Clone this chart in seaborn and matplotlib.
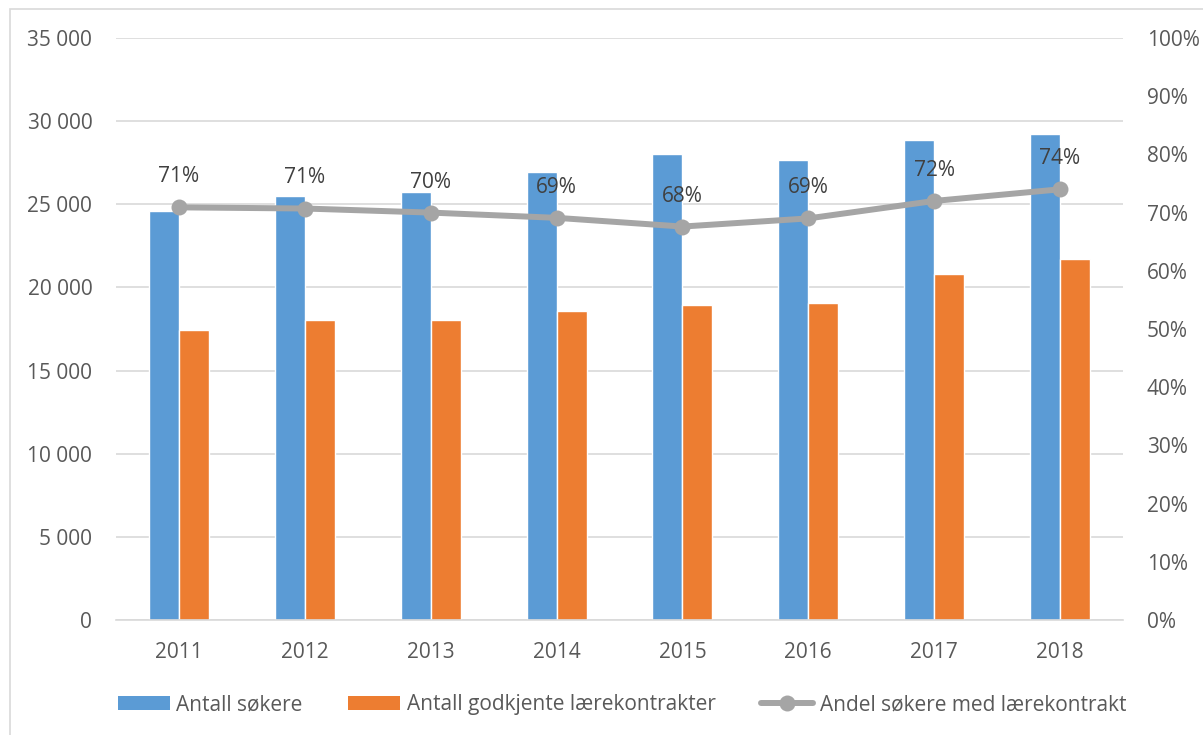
import numpy as np
import pandas as pd
import matplotlib.pyplot as plt
import seaborn as sns
from matplotlib.ticker import FuncFormatter, MultipleLocator
from matplotlib.patches import Patch, Rectangle
from matplotlib.lines import Line2D

# ── Data ───────────────────────────────────────────────────────────────────────

years = ["2011", "2012", "2013", "2014", "2015", "2016", "2017", "2018"]
sokere = [24600, 25480, 25760, 26920, 28000, 27640, 28860, 29200]
kontrakter = [17430, 18030, 18040, 18600, 18950, 19050, 20790, 21690]
andel = [0.709, 0.707, 0.700, 0.691, 0.676, 0.690, 0.720, 0.740]

series_names = ["Antall søkere", "Antall godkjente lærekontrakter"]
line_name = "Andel søkere med lærekontrakt"

BLUE = "#5B9BD5"
ORANGE = "#ED7D31"
GREY = "#A5A5A5"
GRID = "#D9D9D9"
TICK = "#595959"
LABEL = "#404040"
FS = 15

df = pd.DataFrame({
    "year": years * 2,
    "value": sokere + kontrakter,
    "serie": [series_names[0]] * len(years) + [series_names[1]] * len(years),
})

# ── Plot ───────────────────────────────────────────────────────────────────────

sns.set_theme(style="white")
plt.rcParams["font.family"] = ["Open Sans", "DejaVu Sans"]

fig = plt.figure(figsize=(12.03, 7.35), dpi=100)
ax = fig.add_axes([0.0964, 0.1565, 0.8371, 0.7918])

sns.barplot(
    data=df, x="year", y="value", hue="serie",
    palette=[BLUE, ORANGE], width=0.476, gap=0,
    saturation=1, legend=False, ax=ax, zorder=2,
)
ax.set_xlim(-0.5, len(years) - 0.5)
ax.set_ylim(0, 35000)
ax.yaxis.set_major_locator(MultipleLocator(5000))
ax.yaxis.set_major_formatter(
    FuncFormatter(lambda v, _: f"{int(v):,}".replace(",", " "))
)
ax.grid(axis="y", color=GRID, linewidth=1.2, zorder=0)
ax.set_axisbelow(True)
for side in ["top", "right", "left"]:
    ax.spines[side].set_visible(False)
ax.spines["bottom"].set_color(GRID)
ax.spines["bottom"].set_linewidth(1.2)
ax.set_xlabel("")
ax.set_ylabel("")
ax.tick_params(axis="y", length=0, pad=17, labelsize=FS, labelcolor=TICK)
ax.tick_params(axis="x", length=0, pad=16, labelsize=FS, labelcolor=TICK)

ax2 = ax.twinx()
xpos = np.arange(len(years))
sns.lineplot(
    x=xpos, y=andel, ax=ax2, color=GREY, linewidth=4.3,
    marker="o", markersize=11.5, markeredgewidth=0, zorder=3,
)
ax2.set_ylim(0, 1)
ax2.yaxis.set_major_locator(MultipleLocator(0.1))
ax2.yaxis.set_major_formatter(FuncFormatter(lambda v, _: f"{v * 100:.0f}%"))
ax2.tick_params(axis="y", length=0, pad=17, labelsize=FS, labelcolor=TICK)
ax2.grid(False)
for side in ["top", "right", "left", "bottom"]:
    ax2.spines[side].set_visible(False)

for x, v in zip(xpos, andel):
    ax2.annotate(
        f"{v * 100:.0f}%", (x, v), xytext=(0, 22), textcoords="offset points",
        ha="center", va="center", fontsize=FS, color=LABEL,
    )

# ── Legend & frame ─────────────────────────────────────────────────────────────

handles = [
    Patch(facecolor=BLUE, edgecolor="none"),
    Patch(facecolor=ORANGE, edgecolor="none"),
    Line2D([], [], color=GREY, linewidth=4.3, marker="o",
           markersize=11.5, markeredgewidth=0),
]
fig.legend(
    handles, series_names + [line_name],
    loc="center", bbox_to_anchor=(0.517, 0.041), ncol=3, frameon=False,
    fontsize=FS, labelcolor=TICK, handlelength=2.5, handleheight=0.64,
    handletextpad=0.3, columnspacing=2.2,
)

fig.patches.append(Rectangle(
    (10 / 1203, -0.05), 1.1, 1 - 9 / 735 + 0.05,
    transform=fig.transFigure, fill=False, edgecolor=GRID, linewidth=1.2,
))

plt.savefig("out.png", dpi=100)
plt.close()
